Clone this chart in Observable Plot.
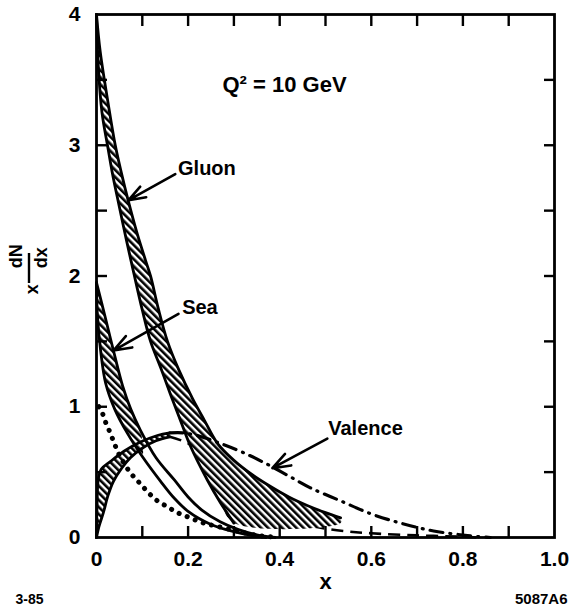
<!DOCTYPE html>
<html>
<head>
<meta charset="utf-8">
<script src="https://cdn.jsdelivr.net/npm/d3@7"></script>
<script src="https://cdn.jsdelivr.net/npm/@observablehq/plot@0.6"></script>
<style>
  html, body { margin: 0; padding: 0; background: #fff; }
  svg { display: block; }
</style>
</head>
<body>
<div id="chart"></div>
<script>
// ---- axis ticks ----
const xTickValues = [0, 0.2, 0.4, 0.6, 0.8, 1.0];
const xTickLabels = ["0", "0.2", "0.4", "0.6", "0.8", "1.0"];
const yTickValues = [0, 1, 2, 3, 4];
const yTickLabels = ["0", "1", "2", "3", "4"];
const xMinorTicks = [0.1, 0.2, 0.3, 0.4, 0.5, 0.6, 0.7, 0.8, 0.9];
const yMinorTicks = [0.5, 1, 1.5, 2, 2.5, 3, 3.5];

// ---- curves: [x, x dN/dx] ----
const gluonOuter = [[0,4.0],[0.008,3.72],[0.025,3.33],[0.041,3.0],[0.059,2.72],[0.075,2.5],[0.09,2.31],[0.107,2.12],[0.118,2.0],[0.135,1.75],[0.155,1.5],[0.18,1.28],[0.21,1.06],[0.235,0.9],[0.264,0.72],[0.30,0.59],[0.34,0.48],[0.38,0.39],[0.42,0.31],[0.46,0.245],[0.50,0.19],[0.533,0.15]];
const gluonInner = [[0,4.0],[0.004,3.6],[0.012,3.25],[0.024,3.0],[0.035,2.78],[0.048,2.56],[0.065,2.28],[0.081,2.03],[0.10,1.74],[0.118,1.5],[0.14,1.3],[0.161,1.10],[0.185,0.88],[0.205,0.70],[0.242,0.44],[0.27,0.27],[0.30,0.11]];
const gluonFloor = 0.11;

const seaOuter = [[0,1.95],[0.018,1.7],[0.037,1.43],[0.057,1.16],[0.075,0.98],[0.096,0.82],[0.13,0.61],[0.17,0.44],[0.2,0.31],[0.23,0.21],[0.27,0.12],[0.31,0.06],[0.35,0.02],[0.39,0]];
const seaInner = [[0,1.95],[0.002,1.7],[0.009,1.43],[0.02,1.18],[0.04,0.98],[0.067,0.8],[0.1,0.62],[0.14,0.43],[0.17,0.3],[0.2,0.2],[0.25,0.1],[0.3,0.045],[0.34,0.015],[0.37,0]];
const seaHatchEnd = 0.12;

const valenceUpper = [[0,0],[0.001,0.22],[0.004,0.45],[0.01,0.52],[0.03,0.58],[0.06,0.66],[0.096,0.73],[0.133,0.78],[0.16,0.8],[0.19,0.8],[0.22,0.78],[0.27,0.72],[0.32,0.65],[0.373,0.56],[0.42,0.47],[0.467,0.38],[0.533,0.28],[0.6,0.18],[0.664,0.11],[0.736,0.05],[0.81,0.015],[0.86,0]];
const valenceLower = [[0,0],[0.005,0.08],[0.015,0.19],[0.025,0.32],[0.037,0.43],[0.055,0.53],[0.074,0.61],[0.103,0.69],[0.13,0.74],[0.16,0.77],[0.2,0.72],[0.24,0.61],[0.28,0.48],[0.32,0.36],[0.36,0.26],[0.4,0.17],[0.45,0.105],[0.5,0.068],[0.55,0.046],[0.6,0.032],[0.7,0.016],[0.8,0.006],[0.83,0]];
const valenceBandEnd = 0.16;

const dotted = [[0.005,1.0],[0.013,0.95],[0.02,0.88],[0.03,0.8],[0.04,0.71],[0.05,0.63],[0.065,0.54],[0.08,0.47],[0.096,0.41],[0.114,0.34],[0.133,0.28],[0.155,0.235],[0.177,0.19],[0.205,0.15],[0.234,0.11],[0.264,0.085],[0.3,0.055],[0.33,0.03],[0.36,0.012],[0.38,0.005]];

// ---- annotations ----
const labels = [
  {text: "Q² = 10 GeV", x: 0.275, y: 3.46, size: 22},
  {text: "Gluon", x: 0.178, y: 2.82, size: 20},
  {text: "Sea", x: 0.187, y: 1.76, size: 20},
  {text: "Valence", x: 0.506, y: 0.83, size: 20}
];
const arrows = [
  {x1: 0.172, y1: 2.78, x2: 0.07, y2: 2.58},
  {x1: 0.179, y1: 1.71, x2: 0.037, y2: 1.43},
  {x1: 0.504, y1: 0.757, x2: 0.384, y2: 0.53}
];

// ---- helpers ----
const pts = a => a.map(([x, y]) => ({x, y}));
const gluonPoly = pts([...gluonOuter, [gluonOuter[gluonOuter.length - 1][0], gluonFloor], ...gluonInner.slice().reverse()]);
const seaPoly = pts([...seaOuter.filter(d => d[0] <= seaHatchEnd), ...seaInner.filter(d => d[0] <= seaHatchEnd).reverse()]);
const valPoly = pts([...valenceUpper.filter(d => d[0] <= valenceBandEnd), ...valenceLower.filter(d => d[0] <= valenceBandEnd).reverse()]);

const curve = "catmull-rom";
const lw = 2.8;
const font = "'Liberation Sans', Arial, Helvetica, sans-serif";
const fmt = (vals, labs) => d => labs[vals.indexOf(d)];

const chart = Plot.plot({
  width: 569,
  height: 609,
  marginLeft: 96,
  marginRight: 15,
  marginTop: 14,
  marginBottom: 72,
  x: {domain: [0, 1], label: null},
  y: {domain: [0, 4], label: null},
  style: {fontFamily: font, background: "white", color: "black", overflow: "visible"},
  marks: [
    // dashed lower valence continuation (beneath the gluon band)
    Plot.line(pts(valenceLower.filter(d => d[0] >= valenceBandEnd)), {x: "x", y: "y", curve, stroke: "black", strokeWidth: 2.6, strokeDasharray: "12 7", strokeLinecap: "butt"}),
    // hatched bands
    Plot.line(gluonPoly, {x: "x", y: "y", curve, fill: "url(#hatch)", stroke: "none"}),
    Plot.line(seaPoly, {x: "x", y: "y", curve, fill: "url(#hatch)", stroke: "none"}),
    Plot.line(valPoly, {x: "x", y: "y", curve, fill: "url(#hatch)", stroke: "none"}),
    // band outlines
    Plot.line(pts(gluonOuter), {x: "x", y: "y", curve, stroke: "black", strokeWidth: lw}),
    Plot.line(pts(gluonInner), {x: "x", y: "y", curve, stroke: "black", strokeWidth: lw}),
    Plot.line(pts(seaOuter), {x: "x", y: "y", curve, stroke: "black", strokeWidth: lw}),
    Plot.line(pts(seaInner), {x: "x", y: "y", curve, stroke: "black", strokeWidth: lw}),
    Plot.line(pts(valenceUpper.filter(d => d[0] <= valenceBandEnd)), {x: "x", y: "y", curve, stroke: "black", strokeWidth: lw}),
    Plot.line(pts(valenceLower.filter(d => d[0] <= valenceBandEnd)), {x: "x", y: "y", curve, stroke: "black", strokeWidth: lw}),
    // dash-dot valence
    Plot.line(pts(valenceUpper.filter(d => d[0] >= valenceBandEnd)), {x: "x", y: "y", curve, stroke: "black", strokeWidth: 3.2, strokeDasharray: "13 7 1 7", strokeLinecap: "round"}),
    // dotted curve
    Plot.line(pts(dotted), {x: "x", y: "y", curve, stroke: "black", strokeWidth: 5, strokeDasharray: "0.1 8.5", strokeLinecap: "round"}),
    // frame and inward ticks
    Plot.frame({stroke: "black", strokeWidth: 2.8}),
    Plot.axisX(xMinorTicks, {anchor: "bottom", tickSize: -11, strokeWidth: 2.4, tickFormat: () => "", label: null}),
    Plot.axisX(xMinorTicks, {anchor: "top", tickSize: -11, strokeWidth: 2.4, tickFormat: () => "", label: null}),
    Plot.axisY(yMinorTicks, {anchor: "left", tickSize: -11, strokeWidth: 2.4, tickFormat: () => "", label: null}),
    Plot.axisY(yMinorTicks, {anchor: "right", tickSize: -11, strokeWidth: 2.4, tickFormat: () => "", label: null}),
    Plot.axisX(xTickValues, {anchor: "bottom", tickSize: 0, tickPadding: 14, fontSize: 21, fontWeight: "bold", tickFormat: fmt(xTickValues, xTickLabels), label: null}),
    Plot.axisY(yTickValues, {anchor: "left", tickSize: 0, tickPadding: 16, fontSize: 21, fontWeight: "bold", tickFormat: fmt(yTickValues, yTickLabels), label: null}),
    // axis titles
    Plot.text(["x"], {x: 0.5, frameAnchor: "bottom", dy: 51, fontSize: 22, fontWeight: "bold"}),
    Plot.text(["dN"], {y: 2.06, frameAnchor: "left", dx: -80, rotate: -90, fontSize: 18, fontWeight: "bold"}),
    Plot.text(["dx"], {y: 2.06, frameAnchor: "left", dx: -55, rotate: -90, fontSize: 18, fontWeight: "bold"}),
    Plot.text(["x"], {y: 1.86, frameAnchor: "left", dx: -64, rotate: -90, fontSize: 18, fontWeight: "bold"}),
    // annotations
    Plot.text(labels, {x: "x", y: "y", text: "text", fontSize: d => d.size, textAnchor: "start", fontWeight: "bold"}),
    Plot.arrow(arrows, {x1: "x1", y1: "y1", x2: "x2", y2: "y2", stroke: "black", strokeWidth: 2.6, headLength: 11, headAngle: 40}),
    // footer codes
    Plot.text(["3-85"], {frameAnchor: "bottom-left", dx: -81, dy: 66, textAnchor: "start", fontSize: 14, fontWeight: "bold"}),
    Plot.text(["5087A6"], {frameAnchor: "bottom-right", dx: 13, dy: 66, textAnchor: "end", fontSize: 15, fontWeight: "bold"})
  ]
});

// hatch pattern and fraction bar for the y label
const svg = d3.select(chart);
const defs = svg.insert("defs", ":first-child");
const pat = defs.append("pattern")
  .attr("id", "hatch")
  .attr("patternUnits", "userSpaceOnUse")
  .attr("width", 5).attr("height", 5)
  .attr("patternTransform", "rotate(-45)");
pat.append("rect").attr("width", 5).attr("height", 5).attr("fill", "white");
pat.append("rect").attr("width", 2.6).attr("height", 5).attr("fill", "black");
svg.append("line")
  .attr("x1", 29).attr("x2", 29).attr("y1", 253).attr("y2", 283)
  .attr("stroke", "black").attr("stroke-width", 2.4);

document.getElementById("chart").appendChild(chart);
</script>
</body>
</html>
